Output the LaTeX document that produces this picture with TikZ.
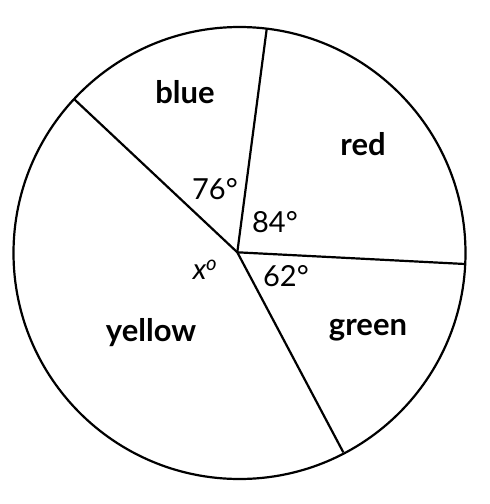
\documentclass[tikz,border=0pt]{standalone}
\usepackage{fontspec}
\setmainfont{Lato}
\usetikzlibrary{calc}
\tikzset{sector/.style={font=\bfseries\fontsize{31}{34}\selectfont},
    angl/.style={font=\fontsize{29}{32}\selectfont}}

\begin{document}
\begin{tikzpicture}[x=1pt, y=-1pt, line width=2.2pt]
\useasboundingbox (0,0) rectangle (490,504);
\draw (239.5,253) circle [radius=226];
\coordinate (O) at (237.3,252.3);
\coordinate (top) at (266.7,29);
\coordinate (right) at (465,264);
\coordinate (bottom) at (343.3,452.3);
\coordinate (left) at (74,99);
\foreach \p in {top,right,bottom,left} \draw (O) -- (\p);

\node[sector] (blue) at (185,92) {blue};
\node[sector] (red) at (363,144) {red};
\node[sector] (green) at (368,330) {green};
\node[sector] (yellow) at (151,333) {yellow};

\node[angl] (a76) at (215,189) {76°};
\node[angl] (a84) at (275,222) {84°};
\node[angl] (a62) at (286,276) {62°};
\node[angl] (ax) at (205,270) {\itshape x\textsuperscript{o}};
\end{tikzpicture}
\end{document}
